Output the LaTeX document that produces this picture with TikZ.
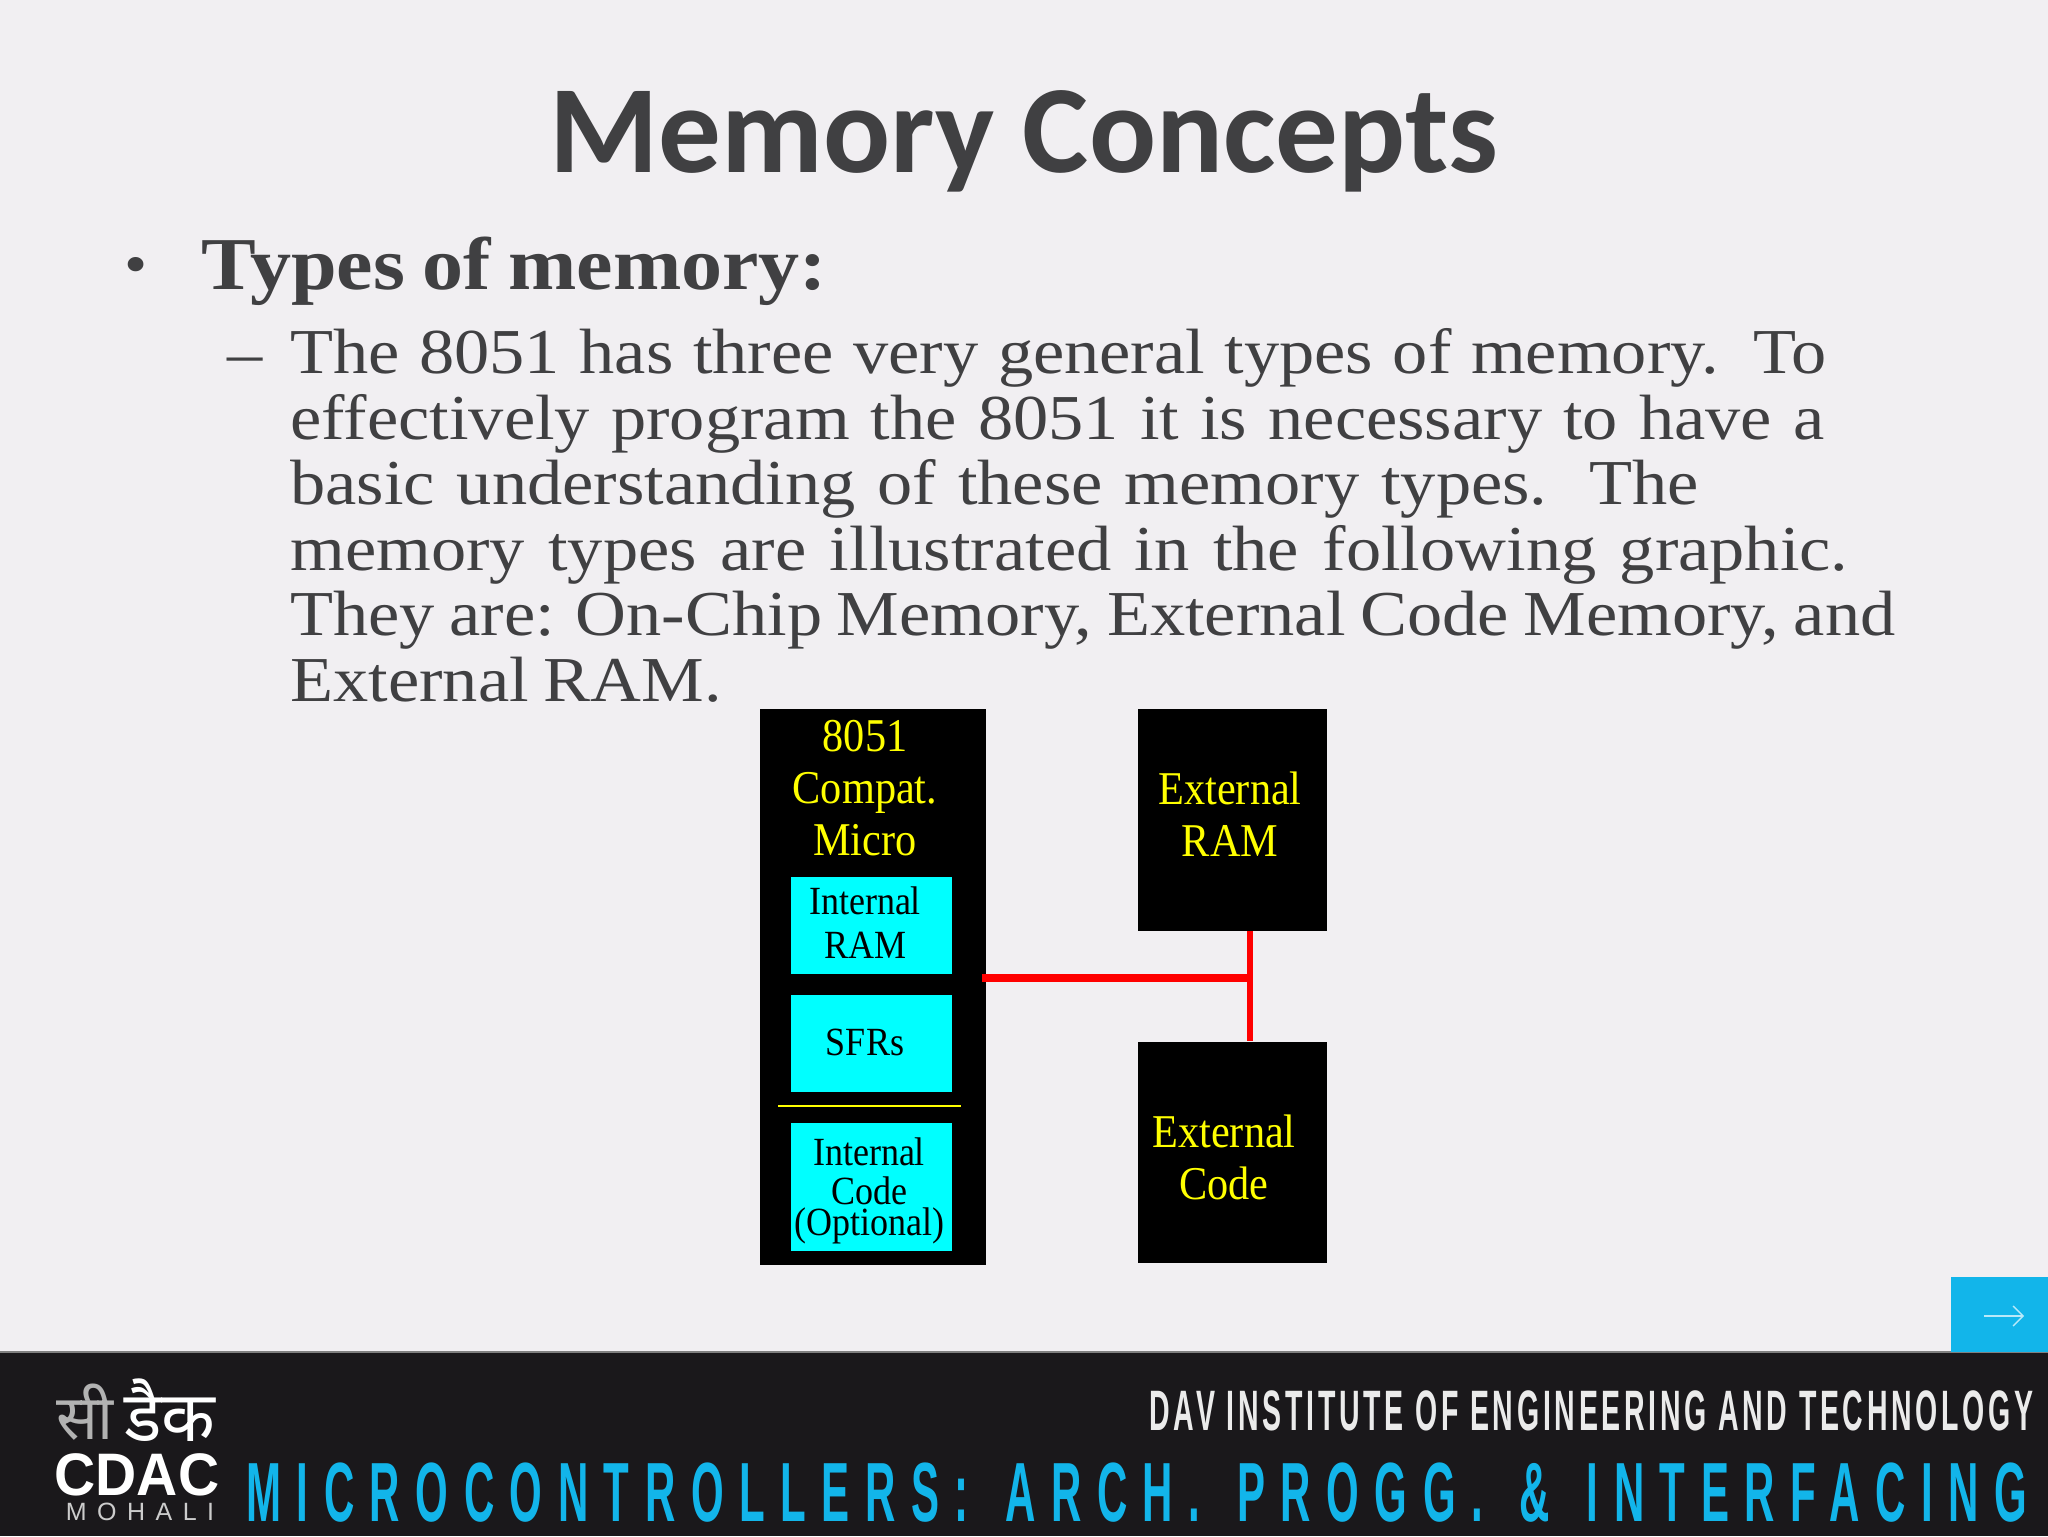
\documentclass[tikz,border=0pt]{standalone}
\usepackage{fontspec}
\usetikzlibrary{arrows.meta}
\setmainfont{Liberation Serif}
\newfontfamily\titlefont{Carlito}
\newfontfamily\bodyfont[FakeStretch=1.1,WordSpace=0.85]{Liberation Serif}
\newfontfamily\boxfont[FakeStretch=0.9]{Liberation Serif}
\newfontfamily\footfont[FakeStretch=0.5,LetterSpace=6.5]{Liberation Sans}
\newfontfamily\coursefont[FakeStretch=0.5,LetterSpace=18.5,WordSpace=1.35]{Liberation Sans}
\newfontfamily\devfont[Script=Devanagari]{Noto Sans}
\newfontfamily\logofont[FakeStretch=0.95]{Liberation Sans}
\newfontfamily\placefont[LetterSpace=42]{Liberation Sans}
\definecolor{slidebg}{HTML}{F1EFF2}
\definecolor{slidetext}{HTML}{404042}
\definecolor{footbar}{HTML}{1A181B}
\definecolor{coursecyan}{HTML}{12B5EA}
\definecolor{boxcyan}{HTML}{00FFFF}
\definecolor{boxyellow}{HTML}{FFFF00}
\newcommand{\bodyline}[2]{\makebox[#1pt][s]{#2}}
\tikzset{
	blackbox/.style={fill=black,inner sep=0pt},
	cyanbox/.style={fill=boxcyan,inner sep=0pt,minimum width=80.5pt,minimum height=48.5pt},
	yellowlabel/.style={text=boxyellow,align=center,inner sep=0pt,font=\boxfont\fontsize{23.5}{26}\selectfont},
	blacklabel/.style={text=black,align=center,inner sep=0pt,font=\boxfont\fontsize{20}{22}\selectfont},
	buswire/.style={draw=red,line cap=butt},
}
\begin{document}
\begin{tikzpicture}[x=0.5pt,y=-0.5pt]
		\useasboundingbox (0,0) rectangle (2048,1536);
		\fill[slidebg] (0,0) rectangle (2048,1536);
		\node (title) [text=slidetext,inner sep=0pt,font=\titlefont\bfseries\fontsize{62.5}{64}\selectfont] at (1024,141) {Memory Concepts};
		\node (bullet) [text=slidetext,anchor=base,inner sep=0pt,font=\bodyfont\fontsize{30}{32}\selectfont] at (136,284) {•};
		\node (heading) [text=slidetext,anchor=base west,inner sep=0pt,font=\bodyfont\bfseries\fontsize{37.3}{39}\selectfont] at (201,289) {Types of memory:};
		\node (dash) [text=slidetext,anchor=base,inner sep=0pt,font=\bodyfont\fontsize{32}{34}\selectfont] at (245,374) {–};
		\node (body) [text=slidetext,anchor=north west,align=left,inner sep=0pt,font=\bodyfont\fontsize{32}{32.8}\selectfont] at (290,328) {\bodyline{768}{The 8051 has three very general types of memory. To}\\
			\bodyline{767}{effectively program the 8051 it is necessary to have a}\\
			\bodyline{704}{basic understanding of these memory types. The}\\
			\bodyline{779}{memory types are illustrated in the following graphic.}\\
			\bodyline{802.5}{They are: On-Chip Memory, External Code Memory, and}\\
			External RAM.};

		\node (micro) [blackbox,minimum width=113pt,minimum height=278pt] at (873,987) {};
		\node (extram) [blackbox,minimum width=94.5pt,minimum height=111pt] at (1232,820) {};
		\node (extcode) [blackbox,minimum width=94.5pt,minimum height=110.5pt] at (1232,1152) {};
		\node (intram) [cyanbox] at (871,925.5) {};
		\node (sfrs) [cyanbox] at (871,1043.5) {};
		\node (intcode) [cyanbox,minimum height=64pt] at (871,1187) {};
		\node (microlabel) [yellowlabel] at (865,788) {8051\\Compat.\\Micro};
		\node (extramlabel) [yellowlabel] at (1230,814) {External\\RAM};
		\node (extcodelabel) [yellowlabel] at (1224,1157) {External\\Code};
		\node (intramlabel) [blacklabel] at (865,923) {Internal\\RAM};
		\node (sfrslabel) [blacklabel] at (865,1042) {SFRs};
		\node (intcodelabel) [blacklabel] at (869,1191) {Internal\\[-2.5pt]Code\\[-6.5pt](Optional)};
		\coordinate (splitleft) at (778,1106);
		\coordinate (splitright) at (961,1106);
		\draw[boxyellow,line width=1.2] (splitleft) -- (splitright);

		\coordinate (tee) at (1250,978);
		\draw[buswire,line width=2.8] (tee |- extram.south) -- (tee |- extcode.north);
		\draw[buswire,line width=4.2,shorten <=-2] (micro.east |- tee) -- (tee);

		\fill[footbar] (0,1352) rectangle (2048,1536);
		\draw[gray,line width=1] (0,1352) -- (2048,1352);
		\node (nextbtn) [fill=coursecyan,inner sep=0pt,minimum width=48.5pt,minimum height=37.5pt] at (1999.5,1314.5) {};
		\coordinate (nexttail) at (1984,1316);
		\coordinate (nexttip) at (2024,1316);
		\draw[-{Straight Barb[length=5pt,width=10pt]},white!70!coursecyan,line width=.7] (nexttail) -- (nexttip);

		\node (college) [text=white!92!black,anchor=base east,inner sep=0pt,font=\footfont\bfseries\fontsize{28.5}{30}\selectfont] at (2034,1430) {DAV INSTITUTE OF ENGINEERING AND TECHNOLOGY};
		\node (course) [text=coursecyan,anchor=base west,inner sep=0pt,font=\coursefont\bfseries\fontsize{42}{44}\selectfont] at (246,1521) {MICROCONTROLLERS: ARCH. PROGG. \& INTERFACING};

		\node (logosi) [text=white!70!black,inner sep=0pt,font=\devfont\fontsize{31}{33}\selectfont] at (85,1412) {सी};
		\node (logodac) [text=white,inner sep=0pt,font=\devfont\fontsize{35}{37}\selectfont] at (170,1410) {डैक};
		\node (logocdac) [text=white,inner sep=0pt,font=\logofont\bfseries\fontsize{30}{31}\selectfont] at (137,1475) {CDAC};
		\node (logoplace) [text=white!80!black,inner sep=0pt,font=\placefont\fontsize{12.5}{14}\selectfont] at (140,1512) {MOHALI};
	\end{tikzpicture}
\end{document}
